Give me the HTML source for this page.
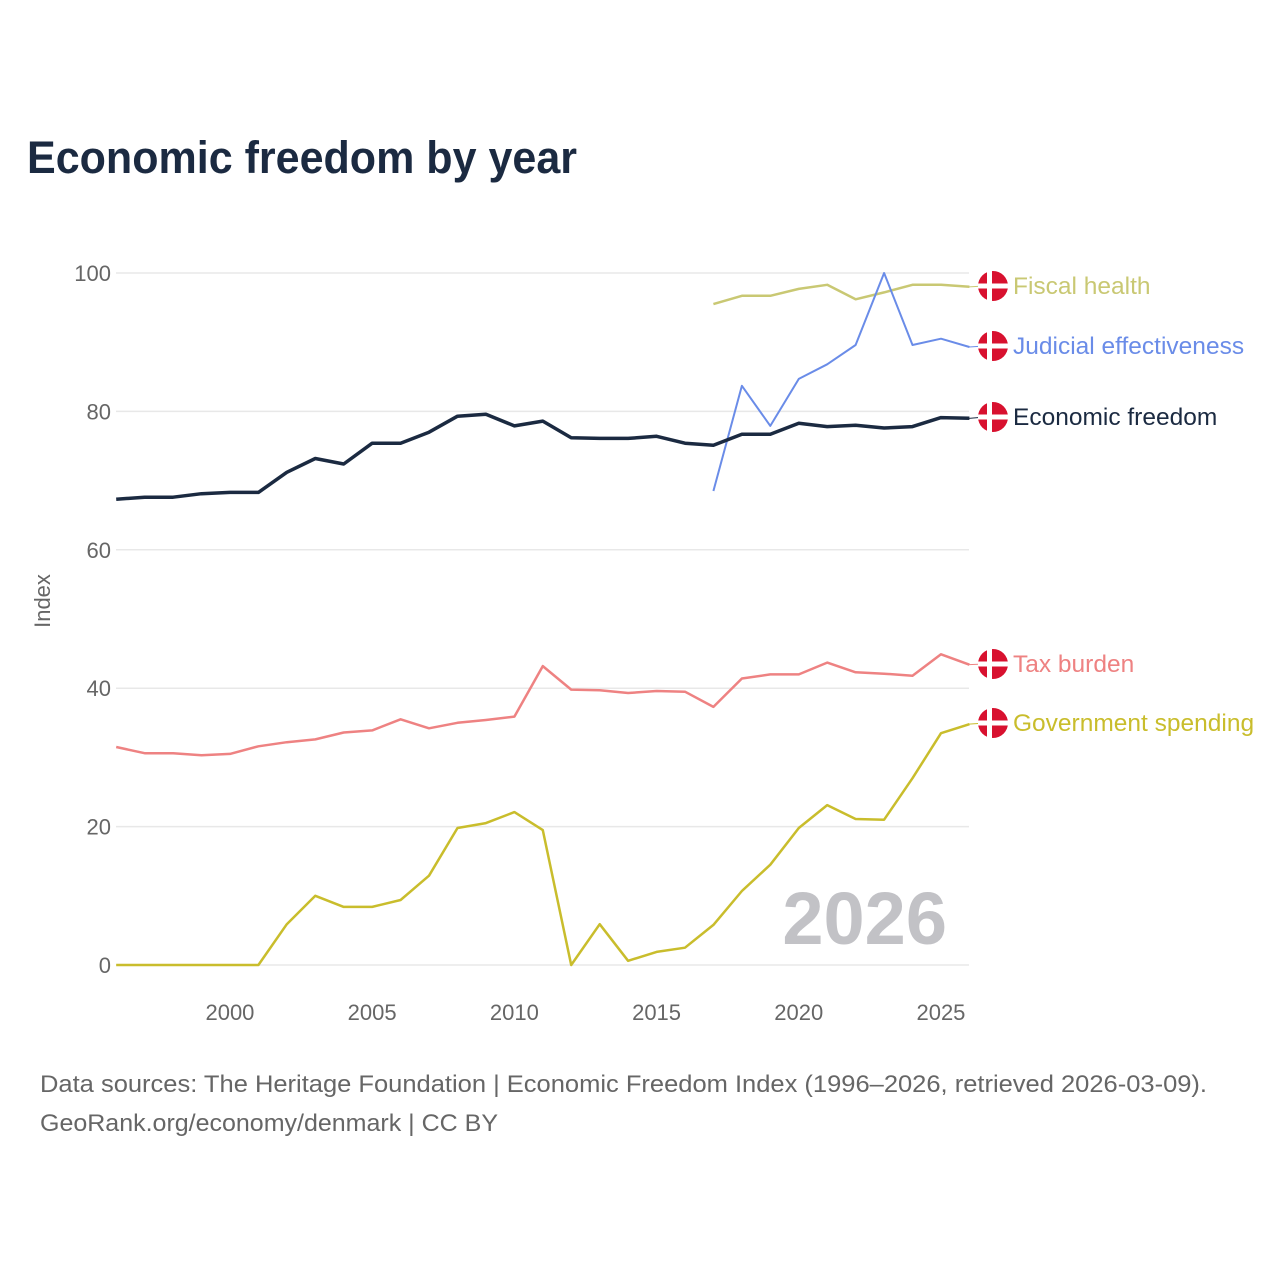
<!DOCTYPE html>
<html><head><meta charset="utf-8"><style>
body{margin:0;background:#fff;}
svg{display:block;font-family:"Liberation Sans",sans-serif;}
</style></head><body>
<svg id="chart" width="1280" height="1280" viewBox="0 0 1280 1280">
<text x="27" y="173" font-size="45" font-weight="bold" fill="#1b2a41" textLength="550" lengthAdjust="spacingAndGlyphs">Economic freedom by year</text>
<g id="grid"></g><g id="yticks"></g><g id="xticks"></g>
<text x="0" y="0" transform="translate(50,601) rotate(-90)" text-anchor="middle" font-size="22" fill="#666">Index</text>
<text x="947" y="944" text-anchor="end" font-size="74" font-weight="bold" fill="#c2c2c6">2026</text>
<g id="lines"></g><g id="labels"></g>
<text x="40" y="1092" font-size="24" fill="#666" textLength="1167" lengthAdjust="spacingAndGlyphs">Data sources: The Heritage Foundation | Economic Freedom Index (1996–2026, retrieved 2026-03-09).</text>
<text x="40" y="1131" font-size="24" fill="#666" textLength="458" lengthAdjust="spacingAndGlyphs">GeoRank.org/economy/denmark | CC BY</text>
</svg>
<script>
const years=[1996,1997,1998,1999,2000,2001,2002,2003,2004,2005,2006,2007,2008,2009,2010,2011,2012,2013,2014,2015,2016,2017,2018,2019,2020,2021,2022,2023,2024,2025,2026];
const econ=[67.3,67.6,67.6,68.1,68.3,68.3,71.2,73.2,72.4,75.4,75.4,77.0,79.3,79.6,77.9,78.6,76.2,76.1,76.1,76.4,75.4,75.1,76.7,76.7,78.3,77.8,78.0,77.6,77.8,79.1,79.0];
const tax=[31.5,30.6,30.6,30.3,30.5,31.6,32.2,32.6,33.6,33.9,35.5,34.2,35.0,35.4,35.9,43.2,39.8,39.7,39.3,39.6,39.5,37.3,41.4,42.0,42.0,43.7,42.3,42.1,41.8,44.9,43.4];
const gov=[0,0,0,0,0,0,5.9,10.0,8.4,8.4,9.4,12.9,19.8,20.5,22.1,19.5,0,5.9,0.6,1.9,2.5,5.8,10.7,14.5,19.8,23.1,21.1,21.0,27.0,33.5,34.8];
const fiscal=[null,null,null,null,null,null,null,null,null,null,null,null,null,null,null,null,null,null,null,null,null,95.5,96.7,96.7,97.7,98.3,96.2,97.2,98.3,98.3,98.0];
const judicial=[null,null,null,null,null,null,null,null,null,null,null,null,null,null,null,null,null,null,null,null,null,68.5,83.7,77.9,84.7,86.8,89.6,100.0,89.6,90.5,89.3];
const yTicks=[0,20,40,60,80,100];
const xTicks=[2000,2005,2010,2015,2020,2025];
const NS="http://www.w3.org/2000/svg";
const X=v=>116.2+(v-1996)*28.44;
const Y=v=>965-v*6.92;
function mk(tag,attrs,parent){const e=document.createElementNS(NS,tag);for(const k in attrs)e.setAttribute(k,attrs[k]);document.getElementById(parent).appendChild(e);return e;}
yTicks.forEach(t=>{
 const l=mk('line',{x1:116,x2:969,y1:Y(t),y2:Y(t),stroke:'#e8e8e8','stroke-width':1.5},'grid');
 
 
 const tx=mk('text',{x:111,y:Y(t)+8,'text-anchor':'end','font-size':22,fill:'#666'},'yticks');
 tx.textContent=t;
 
 
});
xTicks.forEach(t=>{
 const tx=mk('text',{x:X(t),y:1020,'text-anchor':'middle','font-size':22,fill:'#666'},'xticks');
 tx.textContent=t;
 
 
});
const series=[
 {name:'fiscal-health',label:'Fiscal health',data:fiscal,color:'#c9c873',w:2.5,ly:286},
 {name:'judicial-effectiveness',label:'Judicial effectiveness',data:judicial,color:'#6a8ce8',w:2,ly:346},
 {name:'economic-freedom',label:'Economic freedom',data:econ,color:'#1b2a41',w:3.5,ly:417,tc:'#1b2a41'},
 {name:'tax-burden',label:'Tax burden',data:tax,color:'#ee8282',w:2.5,ly:664},
 {name:'government-spending',label:'Government spending',data:gov,color:'#c9bd2c',w:2.5,ly:723}
];
series.forEach(s=>{
 let d='';let last=null;
 s.data.forEach((v,i)=>{if(v===null)return;d+=(d?'L':'M')+X(years[i]).toFixed(1)+','+Y(v).toFixed(1);last=v;});
 const p=mk('path',{d:d,fill:'none',stroke:s.color,'stroke-width':s.w,'stroke-linejoin':'round'},'lines');
 
 
 const c=mk('line',{x1:969,y1:Y(last),x2:985,y2:s.ly,stroke:s.color,'stroke-width':1},'labels');
 
 
 const g=mk('g',{},'labels');
 
 
 const cx=993,cy=s.ly;
 const add=(tag,a)=>{const e=document.createElementNS(NS,tag);for(const k in a)e.setAttribute(k,a[k]);g.appendChild(e);return e;};
 add('circle',{cx:cx,cy:cy,r:15,fill:'#d8112f'});
 add('rect',{x:cx-6,y:cy-15,width:5,height:30,fill:'#fff'});
 add('rect',{x:cx-15,y:cy-2.5,width:30,height:5,fill:'#fff'});
 const t=add('text',{x:1013,y:cy+8,'font-size':24.5,fill:s.tc||s.color});
 t.textContent=s.label;
});
</script>
</body></html>
